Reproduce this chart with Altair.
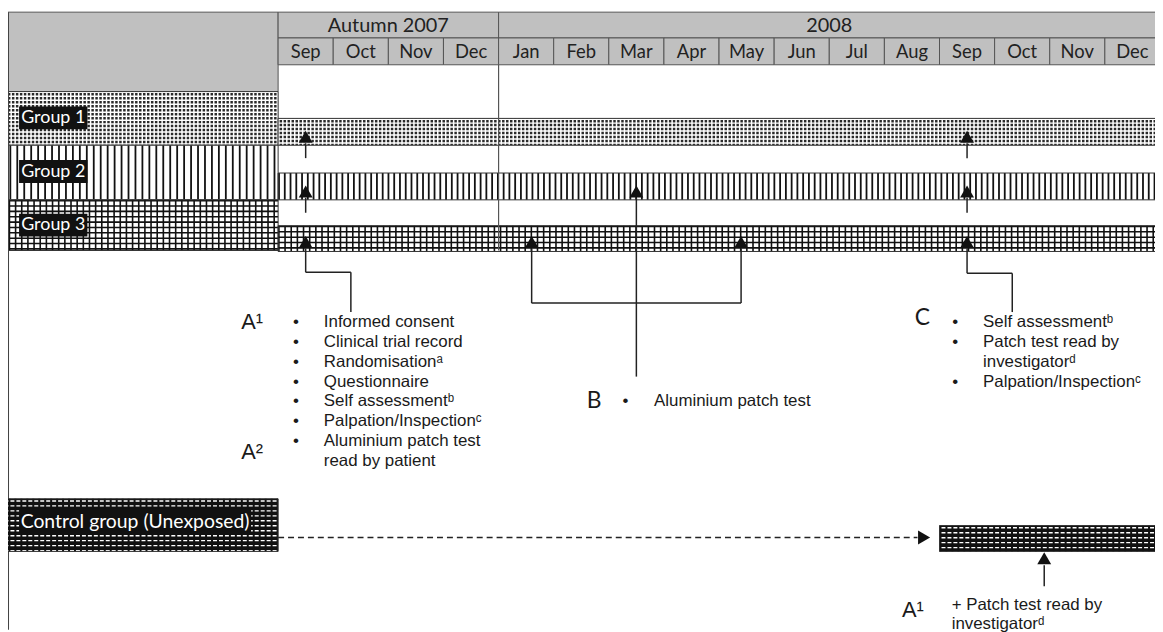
import altair as alt
import pandas as pd

# ---------------- data ----------------
months = ["Sep", "Oct", "Nov", "Dec", "Jan", "Feb", "Mar", "Apr",
          "May", "Jun", "Jul", "Aug", "Sep", "Oct", "Nov", "Dec"]
periods = ["Autumn 2007", "2008"]
period_first_month = [0, 4]
period_end_month = [4, 16]
groups = ["Group 1", "Group 2", "Group 3"]
visits_all_groups = [0.5, 12.5]        # Sep 2007 and Sep 2008
patch_group2 = [6.5]                   # Mar 2008
patch_group3 = [4.6, 8.4]              # Jan and May 2008
control_label = "Control group (Unexposed)"
control_start = 12.0                   # Sep 2008
control_visit = 13.9
list_a = ["Informed consent", "Clinical trial record", "Randomisation\u1d43",
          "Questionnaire", "Self assessment\u1d47", "Palpation/Inspection\u1d9c",
          "Aluminium patch test", "read by patient"]
list_b = ["Aluminium patch test"]
list_c = ["Self assessment\u1d47", "Patch test read by", "investigator\u1d48",
          "Palpation/Inspection\u1d9c"]
list_c_bullets = [True, True, False, True]
list_control = ["+ Patch test read by", "investigator\u1d48"]

# ---------------- layout ----------------
W, H = 1155, 624
X0, X1 = -4.9009, 15.9099
PX = W / (X1 - X0)
xs = alt.Scale(domain=[X0, X1], nice=False, zero=False)
ys = alt.Scale(domain=[8, 632], nice=False, zero=False, reverse=True)
LEFT = X0 + 0.005
END = 16.2
BODY_FONT = "Liberation Sans"
HEAD_FONT = "Lato"


def X(f):
    return alt.X(f, type="quantitative", scale=xs, axis=None)


def Y(f):
    return alt.Y(f, type="quantitative", scale=ys, axis=None)


def rect(x0, x1, y0, y1, **kw):
    df = pd.DataFrame([{"x": x0, "x2": x1, "y": y0, "y2": y1}])
    return alt.Chart(df).mark_rect(**kw).encode(x=X("x"), x2="x2", y=Y("y"), y2="y2")


def vstripes(x0, x1, y0, y1, color, dash):
    df = pd.DataFrame([{"x": x0, "x2": x1, "y": (y0 + y1) / 2}])
    return alt.Chart(df).mark_rule(color=color, strokeWidth=(y1 - y0), strokeDash=dash,
                                   strokeCap="butt").encode(x=X("x"), x2="x2", y=Y("y"))


def hstripes(x0, x1, y0, y1, color, dash):
    df = pd.DataFrame([{"x": (x0 + x1) / 2, "y": y0, "y2": y1}])
    return alt.Chart(df).mark_rule(color=color, strokeWidth=(x1 - x0) * PX, strokeDash=dash,
                                   strokeCap="butt").encode(x=X("x"), y=Y("y"), y2="y2")


def pattern(kind, x0, x1, y0, y1, wide=False):
    out = []
    if kind == "cross":
        out.append(rect(x0, x1, y0, y1, color="#2a2a2a"))
        out.append(vstripes(x0, x1, y0, y1, "white", [1.5, 2.5]))
        out.append(hstripes(x0, x1, y0, y1, "white", [1.5, 2.5]))
    elif kind == "vert":
        out.append(rect(x0, x1, y0, y1, color="white"))
        out.append(vstripes(x0, x1, y0, y1, "#111", [1.8, 5.2] if wide else [1.8, 4.0]))
    elif kind == "grid":
        out.append(rect(x0, x1, y0, y1, color="white"))
        out.append(vstripes(x0, x1, y0, y1, "#111", [1.6, 4.6]))
        out.append(hstripes(x0, x1, y0, y1, "#111", [1.6, 3.8]))
    elif kind == "brick":
        out.append(rect(x0, x1, y0, y1, color="#111"))
        out.append(hstripes(x0, x1, y0 + 1.5, y1, "white", [1.4, 3.6]))
        out.append(vstripes(x0, x1, y0, y1, "#111", [2.0, 4.0]))
    out.append(rect(x0, x1, y0, y1, filled=False, stroke="#333", strokeWidth=1))
    return out


def segs(rows, **kw):
    df = pd.DataFrame(rows, columns=["x", "x2", "y", "y2"])
    base = dict(color="#222", strokeWidth=1.5)
    base.update(kw)
    return alt.Chart(df).mark_rule(**base).encode(
        x=X("x"), x2="x2", y=Y("y"), y2="y2")


def texts(rows, **kw):
    df = pd.DataFrame(rows, columns=["x", "y", "t"])
    base = dict(align="left", baseline="middle", font=BODY_FONT, fontSize=17, color="#1a1a1a")
    base.update(kw)
    return alt.Chart(df).mark_text(**base).encode(x=X("x"), y=Y("y"), text="t:N")


def points(rows, shape):
    df = pd.DataFrame(rows, columns=["x", "y"])
    return alt.Chart(df).mark_point(shape=shape, filled=True, size=196, color="#111",
                                    opacity=1, strokeWidth=0).encode(x=X("x"), y=Y("y"))


layers = []

# header
layers.append(rect(X0, 0, 10, 90, color="#c0c0c0", stroke="#555", strokeWidth=1))
per_df = pd.DataFrame({"p": periods, "a": period_first_month, "b": period_end_month})
per_df["c"] = (per_df["a"] + per_df["b"]) / 2
per_df["y0"] = 10
per_df["y1"] = 36
per_df["ym"] = 23.5
mon_df = pd.DataFrame({"m": months, "a": list(range(len(months)))})
mon_df["b"] = mon_df["a"] + 1
mon_df["c"] = mon_df["a"] + 0.5
mon_df["y0"] = 36
mon_df["y1"] = 63
mon_df["ym"] = 50
for df, field, fs in [(per_df, "p", 20), (mon_df, "m", 18.5)]:
    layers.append(alt.Chart(df).mark_rect(color="#c0c0c0", stroke="#555", strokeWidth=1).encode(
        x=X("a"), x2="b", y=Y("y0"), y2="y1"))
    layers.append(alt.Chart(df).mark_text(font=HEAD_FONT, fontSize=fs, color="#222",
                                          baseline="middle").encode(
        x=X("c"), y=Y("ym"), text=f"{field}:N"))

# groups: left boxes and bars
kinds = ["cross", "vert", "grid"]
left_rows = [(90, 144), (144, 199), (199, 250)]
bar_rows = [(117, 144), (172, 199), (225, 251)]
for k, (a, b) in zip(kinds, left_rows):
    layers += pattern(k, X0 - 0.1, 0, a, b, wide=True)
for k, (a, b) in zip(kinds, bar_rows):
    layers += pattern(k, 0, END, a, b)

# period divider
layers.append(segs([(period_first_month[1], period_first_month[1], 63, 250)], color="#555", strokeWidth=1.2))
# left border
layers.append(segs([(LEFT, LEFT, 10, 632)], color="#444"))

# group labels
lab_y = [116.5, 170.5, 224.5]
for g, yy in zip(groups, lab_y):
    layers.append(rect(-4.70, -3.46, yy - 11.5, yy + 11.5, color="#111"))
    layers.append(texts([(-4.08, yy, g)], align="center", font=HEAD_FONT, fontSize=18, color="white"))

# arrows / connectors
seg_rows = []
tri = []
for v in visits_all_groups:
    seg_rows += [(v, v, 142, 157), (v, v, 197, 212)]
    tri += [(v, 135.5), (v, 190.5), (v, 241.5)]
for v in patch_group2:
    seg_rows.append((v, v, 197, 377))
    tri.append((v, 190.5))
for v in patch_group3:
    seg_rows.append((v, v, 248, 303))
    tri.append((v, 241.5))
seg_rows.append((patch_group3[0], patch_group3[1], 303, 303))
for v, yk in zip(visits_all_groups, [272, 273]):
    seg_rows += [(v, v, 248, yk), (v, v + 0.82, yk, yk), (v + 0.82, v + 0.82, yk, 312)]
seg_rows.append((control_visit, control_visit, 567, 588))
tri.append((control_visit, 560))
layers.append(segs(seg_rows))

# control group
layers += pattern("brick", X0 - 0.1, 0, 500, 553)
layers.append(rect(-4.70, -0.49, 510, 536, color="#111"))
layers.append(texts([(-2.595, 523, control_label)], align="center", font=HEAD_FONT,
                    fontSize=19.5, color="white"))
layers += pattern("brick", control_start, END, 527, 553)
layers.append(segs([(0, control_start - 0.4, 539, 539)], strokeDash=[6, 4]))
layers.append(points([(control_start - 0.28, 539)], "triangle-right"))
layers.append(points(tri, "triangle-up"))

# annotation texts
a_rows = [(0.83, 322 + 20 * i, t) for i, t in enumerate(list_a)]
a_bul = [(0.27, 322 + 20 * i, "\u2022") for i in range(len(list_a) - 1)]
layers.append(texts(a_rows))
layers.append(texts(a_bul))
layers.append(texts([(-0.67, 322, "A\u00b9"), (-0.67, 453, "A\u00b2")], fontSize=22))

layers.append(texts([(5.6, 402, "B")], font=HEAD_FONT, fontSize=23))
layers.append(texts([(6.25, 402, "\u2022")]))
layers.append(texts([(6.82, 402, list_b[0])]))

c_y = [322, 342, 362, 382]
layers.append(texts([(11.55, 318, "C")], font=HEAD_FONT, fontSize=23))
layers.append(texts([(12.79, y, t) for y, t in zip(c_y, list_c)]))
layers.append(texts([(12.23, y, "\u2022") for y, b in zip(c_y, list_c_bullets) if b]))

layers.append(texts([(11.32, 612, "A\u00b9")], fontSize=22))
layers.append(texts([(12.22, 607, list_control[0]), (12.22, 626, list_control[1])]))

chart = alt.layer(*layers).properties(
    width=W, height=H, padding=0,
    autosize=alt.AutoSizeParams(type="none"),
    background="white",
).configure_view(stroke=None)

chart.save("out.html", embed_options={"renderer": "svg", "actions": False})
